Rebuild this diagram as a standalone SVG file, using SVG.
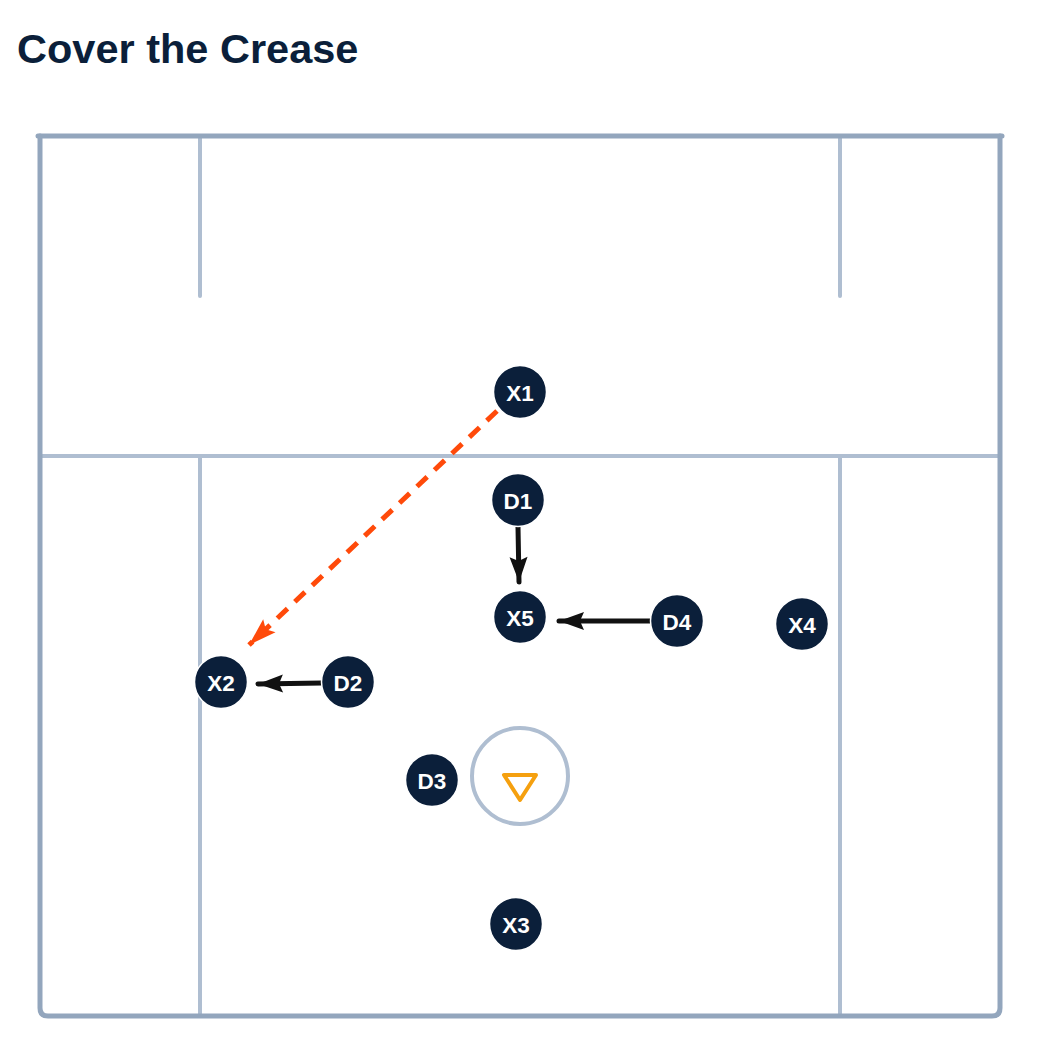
<svg xmlns="http://www.w3.org/2000/svg" width="1040" height="1056" viewBox="0 0 1040 1056">
<style>
.title{font-family:"Liberation Sans",Arial,sans-serif;font-weight:bold;font-size:41.5px;fill:#0b1f3a}
.outer{fill:none;stroke:#93a6bd;stroke-width:5;stroke-linecap:round}
.inner{fill:none;stroke:#afbed1;stroke-width:4;stroke-linecap:round}
.node circle{fill:#0b1f3a;stroke:#ffffff;stroke-width:1.5}
.node text{font-family:"Liberation Sans",Arial,sans-serif;font-weight:bold;font-size:22.5px;fill:#ffffff;text-anchor:middle;dominant-baseline:central}
.move{fill:none;stroke:#111111;stroke-width:5;stroke-linecap:round}
.pass{fill:none;stroke:#ff4a0a;stroke-width:5;stroke-dasharray:14 10}
</style>
<defs>
<marker id="ah" markerUnits="userSpaceOnUse" markerWidth="30" markerHeight="24" refX="26" refY="10" orient="auto">
<path d="M26,10 L1,1 L5,10 L1,19 Z" fill="#111111"/>
</marker>
<marker id="ahp" markerUnits="userSpaceOnUse" markerWidth="34" markerHeight="24" refX="30" refY="10" orient="auto">
<path d="M30,10 L2,1 L7,10 L2,19 Z" fill="#ff4a0a"/>
</marker>
</defs>
<rect width="1040" height="1056" fill="#ffffff"/>
<text class="title" x="17" y="63">Cover the Crease</text>
<g id="field">
<line class="inner" x1="200" y1="138" x2="200" y2="296"/>
<line class="inner" x1="840" y1="138" x2="840" y2="296"/>
<line class="inner" x1="40" y1="456" x2="1000" y2="456"/>
<line class="inner" x1="200" y1="456" x2="200" y2="1016"/>
<line class="inner" x1="840" y1="456" x2="840" y2="1016"/>
<path class="outer" d="M40,136 L40,1008 Q40,1016 48,1016 L992,1016 Q1000,1016 1000,1008 L1000,136"/>
<line class="outer" x1="38" y1="136" x2="1002" y2="136"/>
<circle cx="520" cy="776" r="48" fill="none" stroke="#afbed1" stroke-width="4"/>
<polygon points="504,775 536,775 520,800" fill="none" stroke="#f5a00f" stroke-width="4" stroke-linejoin="round"/>
</g>
<g id="connectors">
<line class="pass" x1="497" y1="411" x2="249" y2="645" marker-end="url(#ahp)"/>
<line class="move" x1="518" y1="527" x2="519" y2="582" marker-end="url(#ah)"/>
<line class="move" x1="651" y1="621" x2="559" y2="621" marker-end="url(#ah)"/>
<line class="move" x1="322" y1="683" x2="258" y2="684" marker-end="url(#ah)"/>
</g>
<g id="X1" class="node"><circle cx="520" cy="392" r="26.5"/><text x="520" y="393">X1</text></g>
<g id="D1" class="node"><circle cx="518" cy="500" r="26.5"/><text x="518" y="501">D1</text></g>
<g id="X5" class="node"><circle cx="520" cy="617" r="26.5"/><text x="520" y="618">X5</text></g>
<g id="D4" class="node"><circle cx="677" cy="621" r="26.5"/><text x="677" y="622">D4</text></g>
<g id="X4" class="node"><circle cx="802" cy="624" r="26.5"/><text x="802" y="625">X4</text></g>
<g id="X2" class="node"><circle cx="221" cy="682" r="26.5"/><text x="221" y="683">X2</text></g>
<g id="D2" class="node"><circle cx="348" cy="682" r="26.5"/><text x="348" y="683">D2</text></g>
<g id="D3" class="node"><circle cx="432" cy="780" r="26.5"/><text x="432" y="781">D3</text></g>
<g id="X3" class="node"><circle cx="516" cy="924" r="26.5"/><text x="516" y="925">X3</text></g>
</svg>
